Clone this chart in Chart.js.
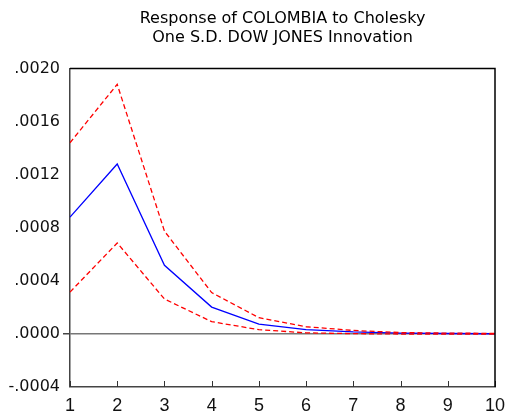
<!DOCTYPE html>
<html>
<head>
<meta charset="utf-8">
<script src="https://cdn.jsdelivr.net/npm/chart.js@4.4.1/dist/chart.umd.min.js"></script>
<style>
  html, body { margin: 0; padding: 0; background: #ffffff; }
  canvas { display: block; }
</style>
</head>
<body>
<canvas id="c" width="507" height="420"></canvas>
<script>
const titleLines = ['Response of COLOMBIA to Cholesky', 'One S.D. DOW JONES Innovation'];
const periods = ['1', '2', '3', '4', '5', '6', '7', '8', '9', '10'];
const response = [0.00088, 0.00128, 0.000517, 0.000202, 0.000074, 0.000032, 0.000015, 0.000006, 0.000003, 0.000001];
const upperBand = [0.00144, 0.00188, 0.000774, 0.000311, 0.000122, 0.000054, 0.000026, 0.000010, 0.000006, 0.000004];
const lowerBand = [0.000315, 0.000685, 0.000263, 0.000092, 0.000032, 0.000008, 0.000002, -0.000001, -0.000001, -0.000001];
const yTickValues = [-0.0004, 0.0000, 0.0004, 0.0008, 0.0012, 0.0016, 0.0020];
const yTickLabels = ['-.0004', '.0000', '.0004', '.0008', '.0012', '.0016', '.0020'];

const FONT = "'DejaVu Sans', 'Liberation Sans', Arial, sans-serif";
const XFONT = "'Liberation Sans', Arial, sans-serif";

const framePlugin = {
  id: 'frame',
  afterDraw(chart) {
    const ctx = chart.ctx;
    const a = chart.chartArea;
    const xs = chart.scales.x;
    ctx.save();
    ctx.strokeStyle = '#333333';
    ctx.lineWidth = 1;
    ctx.beginPath();
    for (let i = 0; i < periods.length; i++) {
      const px = Math.round(xs.getPixelForValue(i)) + 0.5;
      ctx.moveTo(px, a.bottom);
      ctx.lineTo(px, a.bottom - 6);
    }
    ctx.stroke();
    ctx.strokeStyle = '#000000';
    ctx.lineWidth = 1.5;
    ctx.beginPath();
    ctx.moveTo(a.left, a.top);
    ctx.lineTo(a.right, a.top);
    ctx.lineTo(a.right, a.bottom);
    ctx.stroke();
    ctx.restore();
  }
};

new Chart(document.getElementById('c'), {
  type: 'line',
  data: {
    labels: periods,
    datasets: [
      { data: upperBand, borderColor: '#ff0000', borderWidth: 1.3, borderDash: [5, 3], pointRadius: 0, tension: 0, fill: false },
      { data: lowerBand, borderColor: '#ff0000', borderWidth: 1.3, borderDash: [5, 3], pointRadius: 0, tension: 0, fill: false },
      { data: response, borderColor: '#0000ff', borderWidth: 1.3, pointRadius: 0, tension: 0, fill: false }
    ]
  },
  options: {
    responsive: false,
    animation: false,
    devicePixelRatio: 1,
    layout: { padding: { left: 0, right: 12, top: 0, bottom: 0 } },
    plugins: {
      legend: { display: false },
      tooltip: { enabled: false },
      title: {
        display: true,
        fullSize: false,
        text: titleLines,
        color: '#000000',
        font: { family: FONT, size: 16, weight: 'normal', lineHeight: 1.2 },
        padding: { top: 9, bottom: 21 }
      }
    },
    scales: {
      x: {
        type: 'category',
        offset: false,
        grid: { display: false, drawTicks: false },
        border: { display: true, color: '#444444', width: 1.5 },
        ticks: { color: '#111111', font: { family: XFONT, size: 18 }, padding: 8, maxRotation: 0, autoSkip: false },
        afterFit(scale) { scale.height = 33; scale.paddingLeft = 0; scale.paddingRight = 0; }
      },
      y: {
        type: 'linear',
        min: -0.0004,
        max: 0.0020,
        afterBuildTicks(scale) { scale.ticks = yTickValues.map(v => ({ value: v })); },
        grid: {
          drawOnChartArea: true,
          drawTicks: true,
          tickLength: 7,
          tickColor: '#444444',
          color: (c) => (c.tick && Math.abs(c.tick.value) < 1e-12 ? '#777777' : 'rgba(0,0,0,0)'),
          lineWidth: (c) => (c.tick && Math.abs(c.tick.value) < 1e-12 ? 1.5 : 0)
        },
        border: { display: true, color: '#444444', width: 1.5 },
        ticks: {
          color: '#111111',
          font: { family: FONT, size: 16 },
          padding: 3,
          callback: (v, i) => yTickLabels[i]
        },
        afterFit(scale) { scale.width = 70; }
      }
    }
  },
  plugins: [framePlugin]
});
</script>
</body>
</html>
